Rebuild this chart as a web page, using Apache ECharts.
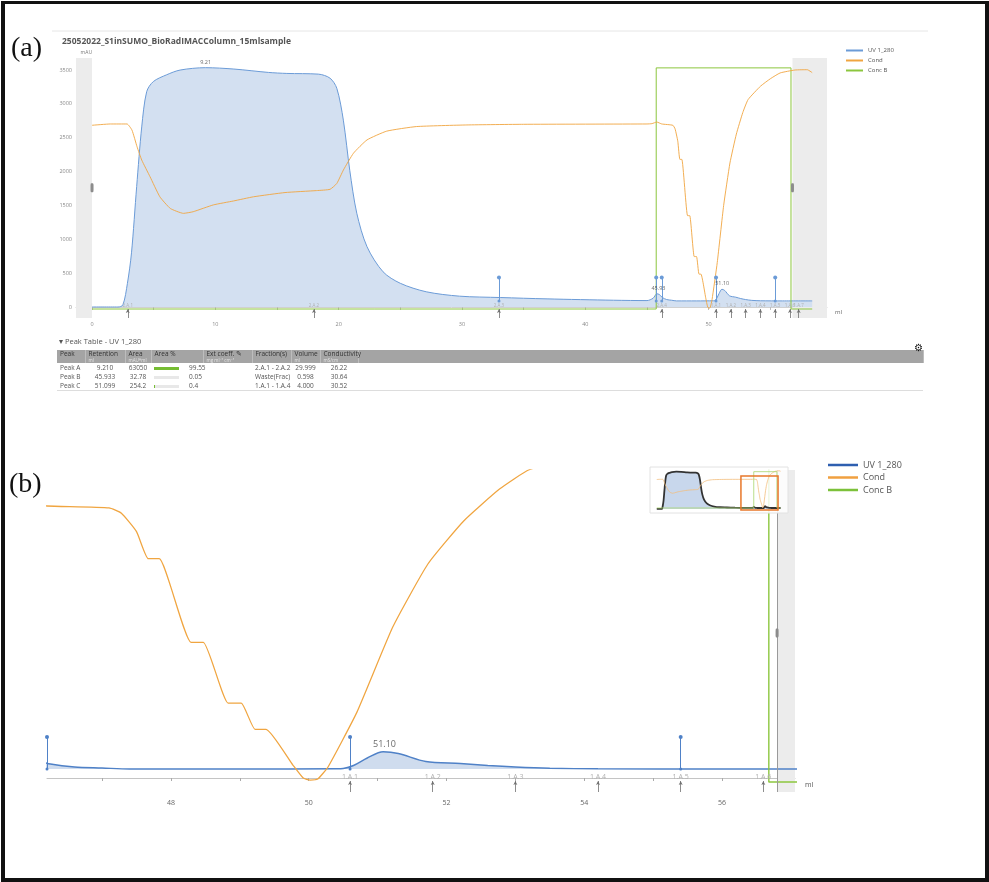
<!DOCTYPE html>
<html>
<head>
<meta charset="utf-8">
<script src="https://cdn.jsdelivr.net/npm/echarts@6/dist/echarts.min.js"></script>
<style>
  html, body { margin: 0; padding: 0; background: #fff; }
  #wrap { position: relative; width: 989px; height: 882px; overflow: hidden; }
  #chart { position: absolute; left: 0; top: 0; width: 989px; height: 882px; }
  #frame { position: absolute; left: 1px; top: 1px; width: 988px; height: 881px; box-sizing: border-box;
           border-style: solid; border-color: #111; border-width: 3px 4px 4px 4px; pointer-events: none; }
  #peaks { position: absolute; left: 57px; top: 335px; width: 866px; font-family: 'Open Sans', 'Liberation Sans', sans-serif; color: #555; }
  #peaks .cap { font-size: 7.5px; height: 15px; line-height: 12px; padding-left: 2px; }
  #peaks .gear { position: absolute; right: 0; top: 5px; font-size: 10px; color: #111; }
  #peaks table { border-collapse: collapse; width: 866px; table-layout: fixed; }
  #peaks th { background: #a4a4a4; color: #333; font-weight: normal; font-size: 6.5px; text-align: left;
              padding: 1px 3px 0 3px; height: 12px; border-right: 1px solid #bdbdbd; vertical-align: top; line-height: 6.5px; }
  #peaks th span { display: block; font-size: 4.5px; color: #e6e6e6; line-height: 5px; }
  #peaks td { font-size: 6.5px; height: 9px; line-height: 9px; padding: 0 3px; white-space: nowrap; }
  #peaks tr.last td { border-bottom: 1px solid #ddd; }
  #peaks .c { text-align: center; }
  #peaks .bar { display: inline-block; width: 25px; height: 3px; background: #e8e8e8; vertical-align: middle; margin-right: 10px; }
  #peaks .bar i { display: block; height: 3px; background: #76bd33; }
</style>
</head>
<body>
<div id="wrap">
  <div id="chart"></div>
  <div id="peaks"></div>
  <div id="frame"></div>
</div>
<script>
// UV 1_280 trace, ml / mAU
const uvMl = [0, 2.1, 2.5, 2.87, 3.2, 3.62, 4.03, 4.43, 4.97, 6.05, 7.14, 9.2, 11.5, 14.3, 15.8, 18.35, 19.3, 19.85,
  20.38, 20.9, 21.47, 22.3, 23.6, 25.0, 27.1, 29.8, 33.1, 36.9, 42.3, 45.0, 45.5, 45.8, 46.0, 46.25, 46.6, 47.0, 47.4,
  49.0, 50.4, 50.5, 50.65, 50.85, 51.08, 51.3, 51.7, 52.2, 52.6, 53.0, 53.5, 54.2, 56.0, 58.4]
const uvVal = [0, 0, 30, 350, 800, 1780, 2660, 3180, 3330, 3430, 3500, 3535, 3515, 3465, 3450, 3440, 3380, 3230,
  2760, 2020, 1385, 890, 520, 350, 225, 160, 140, 120, 100, 95, 130, 195, 185, 140, 110, 100, 90,
  90, 92, 95, 125, 200, 262, 245, 165, 145, 125, 110, 98, 92, 90, 90]

// Cond trace, ml / mS/cm
const condMl = [0, 1.5, 2.84, 3.24, 3.65, 4.03, 4.7, 5.5, 6.35, 7.41, 8.2, 9.84, 11.46, 13.1, 15.65, 18.2, 19.3, 19.85,
  20.38, 21.2, 22.3, 23.9, 26.3, 30.4, 35.0, 45.0, 45.4, 45.8, 46.2, 47.1, 47.28, 47.5, 47.67, 47.83, 48.29, 48.47,
  48.83, 49.02, 49.22, 49.38, 49.77, 49.92, 50.02, 50.13, 50.28, 50.7, 51.22, 51.73, 52.25, 52.77, 53.2, 54.2, 55.0,
  55.8, 57.0, 58.0, 58.4]
const condVal = [59.3, 59.7, 59.7, 57.8, 52.7, 48.6, 43.5, 37.3, 33.7, 32.2, 32.7, 34.8, 36.0, 37.3, 38.6, 39.2, 39.6, 41.4,
  45.5, 50.7, 54.8, 57.5, 58.9, 59.4, 59.6, 59.7, 59.8, 60.3, 59.7, 59.3, 58.2, 54.4, 48.8, 48.8, 31.5, 31.5,
  18.9, 18.9, 13.5, 13.5, 6.1, 3.4, 3.0, 3.2, 5.7, 17.05, 34.65, 47.7, 56.6, 63.2, 67.2, 71.3, 73.6,
  75.4, 76.3, 76.4, 75.5]

// Conc B, ml / %B
const concMl = [0, 45.75, 45.75, 56.68, 56.68, 58.4]
const concVal = [0, 0, 100, 100, 0, 0]

// run events, fractions and integrated peaks
const eventMl = [33.0, 45.75, 46.2, 50.6, 55.4]
const fracMl = [2.9, 18.0, 33.0, 46.2, 50.6, 51.8, 53.0, 54.2, 55.4, 56.6, 57.3]
const fracNames = ['2.A.1', '2.A.2', '2.A.3', '2.A.4', '1.A.1', '1.A.2', '1.A.3', '1.A.4', '1.A.5', '1.A.6', '1.A.7']
const peakMl = [9.21, 45.93, 51.10]
const peakTop = [3535, 195, 262]
const peakText = ['9.21', '45.93', '51.10']

const xTicksA = [0, 10, 20, 30, 40, 50]
const xMinorA = [0, 5, 10, 15, 20, 25, 30, 35, 40, 45, 50, 55]
const yTicksA = [0, 500, 1000, 1500, 2000, 2500, 3000, 3500]
const yMinorA = [0, 250, 500, 750, 1000, 1250, 1500, 1750, 2000, 2250, 2500, 2750, 3000, 3250, 3500]
const xTicksB = [48, 50, 52, 54, 56]
const xMinorB = [47, 48, 49, 50, 51, 52, 53, 54, 55, 56, 57]

// peak table - UV 1_280
const tabPeak = ['Peak A', 'Peak B', 'Peak C']
const tabRet = ['9.210', '45.933', '51.099']
const tabArea = ['63050', '32.78', '254.2']
const tabAreaPct = [99.55, 0.05, 0.4]
const tabAreaPctText = ['99.55', '0.05', '0.4']
const tabFrac = ['2.A.1 - 2.A.2', 'Waste(Frac)', '1.A.1 - 1.A.4']
const tabVol = ['29.999', '0.598', '4.000']
const tabCond = ['26.22', '30.64', '30.52']

const zip = (xs, ys) => xs.map((x, i) => [x, ys[i]])
const FONT = "'Open Sans', 'Liberation Sans', sans-serif"
const SERIF = "28px 'Liberation Serif', 'DejaVu Serif', serif"

const buildTable = () => {
  const heads = [['Peak', ''], ['Retention', 'ml'], ['Area', 'mAU*ml'], ['Area %', ''], ['Ext coeff. &#9998;', 'mg ml⁻¹ cm⁻¹'],
    ['Fraction(s)', ''], ['Volume', 'ml'], ['Conductivity', 'mS/cm'], ['', '']]
  const widths = [28, 40, 26, 52, 49, 39, 29, 38, 565]
  let html = '<div class="cap">&#9662; Peak Table - UV 1_280</div><div class="gear">&#9881;</div><table><colgroup>'
  widths.forEach(w => { html += `<col style="width:${w}px">` })
  html += '</colgroup><tr>'
  heads.forEach(h => { html += `<th>${h[0]}<span>${h[1] || '&nbsp;'}</span></th>` })
  html += '</tr>'
  tabPeak.forEach((p, i) => {
    const fill = tabAreaPct[i] / 100 * 25
    html += `<tr class="${i === tabPeak.length - 1 ? 'last' : ''}"><td>${p}</td><td class="c">${tabRet[i]}</td>` +
      `<td class="c">${tabArea[i]}</td><td><span class="bar"><i style="width:${fill}px"></i></span>${tabAreaPctText[i]}</td>` +
      `<td></td><td>${tabFrac[i]}</td><td class="c">${tabVol[i]}</td><td class="c">${tabCond[i]}</td><td></td></tr>`
  })
  html += '</table>'
  document.getElementById('peaks').innerHTML = html
}

const vline = (m, y0, y1, o) => {
  const common = { name: o.name || '', lineStyle: o.lineStyle, label: o.label }
  return [
    Object.assign({ coord: [m, y0], symbol: o.sym0 || 'none', symbolSize: o.size0 || 0 }, common),
    Object.assign({ coord: [m, y1], symbol: o.sym1 || 'none', symbolSize: o.size1 || 0 }, common)
  ]
}

const panelSeries = (p) => {
  const marks = []
  eventMl.forEach(m => {
    if (m < p.xMin || m > p.xMax) return
    marks.push(vline(m, 90, p.markTop, {
      sym0: 'circle', size0: 3, sym1: 'circle', size1: 4,
      lineStyle: { color: p.uvColor, width: 1, type: 'solid' }, label: { show: false }
    }))
  })
  fracMl.forEach((m, i) => {
    if (m <= p.xMin + 0.05 || m >= p.xMax) return
    marks.push(vline(m, p.uvMin, -30, {
      sym1: 'arrow', size1: [3, 4], name: fracNames[i],
      lineStyle: { color: '#707070', width: 0.8, type: 'solid' },
      label: { show: true, position: 'end', formatter: '{b}', fontSize: p.fracFont, color: '#b0b0b0', distance: 1, fontFamily: FONT }
    }))
  })
  if (p.edge) {
    marks.push(vline(p.edge, p.uvMin, p.uvMax, {
      lineStyle: { color: '#9a9a9a', width: 1, type: 'solid' }, label: { show: false }
    }))
  }
  const peaks = peakMl.map((m, i) => [m, peakTop[i], peakText[i]]).filter(d => d[0] > p.xMin && d[0] < p.xMax)
  return [
    {
      name: '_band', type: 'line', xAxisIndex: p.x, yAxisIndex: p.yUV, data: [], z: 1, silent: true,
      markArea: { silent: true, itemStyle: { color: '#ececec' }, data: p.bands.map(b => [{ xAxis: b[0] }, { xAxis: b[1] }]) },
      markPoint: {
        silent: true, symbol: 'roundRect', symbolSize: [3, 9], itemStyle: { color: '#8c8c8c' }, label: { show: false },
        data: p.handles.map(h => ({ coord: [h, p.handleUV] }))
      }
    },
    {
      name: 'UV 1_280', type: 'line', xAxisIndex: p.x, yAxisIndex: p.yUV, data: zip(uvMl, uvVal),
      showSymbol: false, smooth: 0.3, z: 3,
      lineStyle: { color: p.uvColor, width: p.lineW }, itemStyle: { color: p.uvColor },
      areaStyle: { color: p.fillColor, opacity: 1, origin: p.fillOrigin },
      markLine: { silent: true, animation: false, data: marks }
    },
    {
      name: 'Cond', type: 'line', xAxisIndex: p.x, yAxisIndex: p.yCond, data: zip(condMl, condVal),
      showSymbol: false, smooth: 0.15, z: 4,
      lineStyle: { color: '#f0a540', width: p.lineW * 0.9 }, itemStyle: { color: '#f0a540' }
    },
    {
      name: 'Conc B', type: 'line', xAxisIndex: p.x, yAxisIndex: p.yConc, data: zip(concMl, concVal),
      showSymbol: false, z: 3,
      lineStyle: { color: '#8cc63e', width: p.lineW }, itemStyle: { color: '#8cc63e' }
    },
    {
      name: '_peaks', type: 'scatter', xAxisIndex: p.x, yAxisIndex: p.yUV, data: peaks, silent: true, z: 6,
      symbolSize: 1, itemStyle: { color: 'rgba(0,0,0,0)' },
      label: { show: true, position: 'top', distance: 2, formatter: d => d.value[2], fontSize: p.peakFont, color: '#444', fontFamily: FONT }
    }
  ]
}

const panelA = {
  x: 0, yUV: 0, yCond: 1, yConc: 2, xMin: -1.3, xMax: 59.6, uvMin: -162.5, uvMax: 3678,
  lineW: 1, uvColor: '#6b9bd7', fillColor: '#d3e0f1', fillOrigin: 0, markTop: 435,
  fracFont: 4.5, peakFont: 5.5, handleUV: 1760, bands: [[-1.3, 0], [56.8, 59.6]], handles: [0, 56.8], edge: 0
}
const panelB = {
  x: 1, yUV: 3, yCond: 4, yConc: 5, xMin: 46.2, xMax: 57.06, uvMin: -140, uvMax: 3080,
  lineW: 1.4, uvColor: '#4f81c7', fillColor: '#cfdcee', fillOrigin: 90, markTop: 410,
  fracFont: 7, peakFont: 9, handleUV: 1450, bands: [[56.8, 57.06]], handles: [56.8], edge: 56.8
}

// overview inset in (b), orange box marks the zoomed window
const insetWindow = [39.7, 57.2]
const insetSeries = [
  {
    type: 'line', xAxisIndex: 2, yAxisIndex: 6, data: zip(uvMl, uvVal), showSymbol: false, smooth: 0.3, z: 12,
    lineStyle: { color: '#333', width: 1.8 }, areaStyle: { color: '#c8d7ec', opacity: 1, origin: 0 },
    markArea: {
      silent: true, z: 13,
      itemStyle: { color: 'rgba(0,0,0,0)', borderColor: '#e8772a', borderWidth: 1.5 },
      data: [[{ xAxis: insetWindow[0], yAxis: -99 }, { xAxis: insetWindow[1], yAxis: 3127 }]]
    }
  },
  {
    type: 'line', xAxisIndex: 2, yAxisIndex: 7, data: zip(condMl, condVal), showSymbol: false, smooth: 0.15, z: 12,
    lineStyle: { color: '#f3be7c', width: 0.8 }
  },
  {
    type: 'line', xAxisIndex: 2, yAxisIndex: 8, data: zip(concMl, concVal), showSymbol: false, z: 12,
    lineStyle: { color: '#a8d66c', width: 0.8 }
  }
]

const hidden = (gridIndex, min, max) => ({ gridIndex, type: 'value', min, max, show: false })

const option = {
  animation: false,
  textStyle: { fontFamily: FONT },
  grid: [
    { left: 76, top: 58, width: 751, height: 260 },
    { left: 47, top: 470, width: 748, height: 322 },
    { left: 650, top: 467, width: 138, height: 46, show: true, z: 10,
      backgroundColor: 'rgba(255,255,255,0.85)', borderColor: '#e2e2e2', borderWidth: 1 }
  ],
  xAxis: [
    {
      gridIndex: 0, type: 'value', min: -1.3, max: 59.6,
      name: 'ml', nameLocation: 'end', nameGap: 8,
      nameTextStyle: { fontSize: 6, color: '#666', verticalAlign: 'top', padding: [2, 0, 0, 0] },
      axisLine: { lineStyle: { color: '#d0d0d0' } },
      axisTick: { customValues: xMinorA, length: 3, lineStyle: { color: '#bdbdbd' } },
      axisLabel: { customValues: xTicksA, fontSize: 5.5, color: '#888', margin: 3 },
      splitLine: { show: false }
    },
    {
      gridIndex: 1, type: 'value', min: 46.2, max: 57.06,
      name: 'ml', nameLocation: 'end', nameGap: 10,
      nameTextStyle: { fontSize: 7, color: '#555', verticalAlign: 'top', padding: [3, 0, 0, 0] },
      axisLine: { lineStyle: { color: '#c4c4c4' } },
      axisTick: { customValues: xMinorB, length: 3, lineStyle: { color: '#aaa' } },
      axisLabel: { customValues: xTicksB, fontSize: 7, color: '#666', margin: 7 },
      splitLine: { show: false }
    },
    hidden(2, -3.2, 61.9)
  ],
  yAxis: [
    {
      gridIndex: 0, type: 'value', min: -162.5, max: 3678, position: 'left',
      name: 'mAU', nameLocation: 'end', nameGap: 3,
      nameTextStyle: { fontSize: 5, color: '#777', align: 'right' },
      axisLine: { show: false },
      axisTick: { show: true, customValues: yMinorA, length: 2, lineStyle: { color: '#cfcfcf' } },
      axisLabel: { customValues: yTicksA, fontSize: 5.5, color: '#888', margin: 4, formatter: v => String(v) },
      splitLine: { show: false }
    },
    hidden(0, 0, 80),
    hidden(0, -3.73, 104.1),
    hidden(1, -140, 3080),
    hidden(1, 0.52, 67.15),
    hidden(1, -2.5, 78),
    hidden(2, -384, 3981),
    hidden(2, -6.9, 84),
    hidden(2, -13.8, 112.9)
  ],
  legend: [
    {
      orient: 'vertical', left: 846, top: 47, padding: 0, itemWidth: 17, itemHeight: 2, itemGap: 3, icon: 'rect',
      selectedMode: false, textStyle: { fontSize: 6, color: '#555', lineHeight: 7 },
      data: ['UV 1_280', 'Cond', 'Conc B']
    },
    {
      orient: 'vertical', left: 828, top: 460, padding: 0, itemWidth: 30, itemHeight: 2.5, itemGap: 2.5, icon: 'rect',
      selectedMode: false, textStyle: { fontSize: 9, color: '#555', lineHeight: 10 },
      data: [
        { name: 'UV 1_280', itemStyle: { color: '#2e5fb0' } },
        { name: 'Cond', itemStyle: { color: '#f0a040' } },
        { name: 'Conc B', itemStyle: { color: '#7cc13a' } }
      ]
    }
  ],
  graphic: [
    { type: 'line', shape: { x1: 52, y1: 31, x2: 928, y2: 31 }, style: { stroke: '#e6e6e6', lineWidth: 1 } },
    { type: 'text', left: 62, top: 37, style: { text: '25052022_S1inSUMO_BioRadIMACColumn_15mlsample',
      fill: '#555', font: `bold 8.5px ${FONT}` } },
    { type: 'text', left: 11, top: 35, style: { text: '(a)', fill: '#111', font: SERIF } },
    { type: 'text', left: 9, top: 471, style: { text: '(b)', fill: '#111', font: SERIF } }
  ],
  series: [...panelSeries(panelA), ...panelSeries(panelB), ...insetSeries]
}

buildTable()
const chart = echarts.init(document.getElementById('chart'))
chart.setOption(option)
</script>
</body>
</html>
